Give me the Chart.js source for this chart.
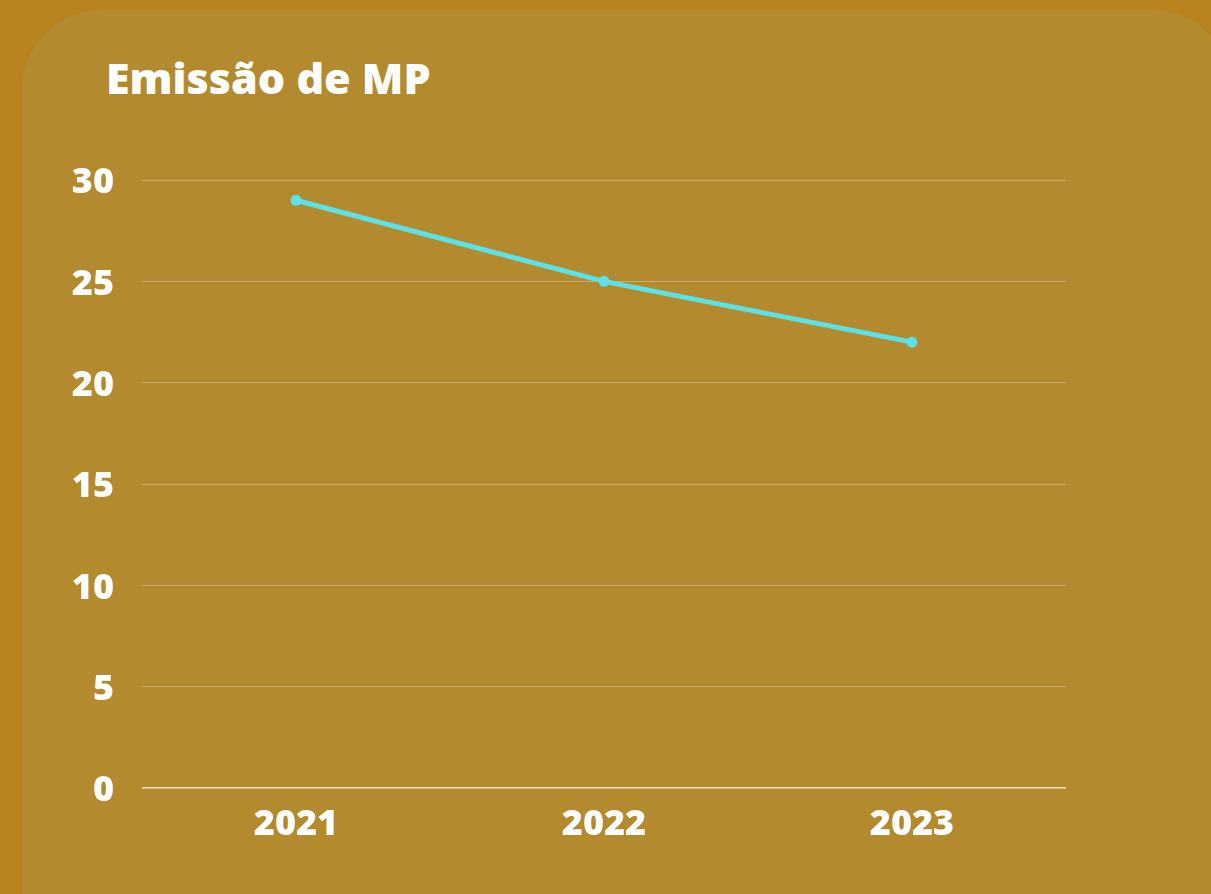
<!DOCTYPE html>
<html>
<head>
<meta charset="utf-8">
<script src="https://cdn.jsdelivr.net/npm/chart.js@4"></script>
<style>
  html, body { margin:0; padding:0; }
  body { width:1211px; height:894px; background:#b8821f; position:relative; overflow:hidden; font-family:"Open Sans", sans-serif; }
  #panel { position:absolute; left:22px; top:10px; width:1210px; height:960px; background:#b38b2e; border-radius:80px; }
  #title { position:absolute; left:106px; top:56px; margin:0; font-size:43px; line-height:43px; font-weight:800; color:#ffffff; white-space:nowrap; }
  #wrap { position:absolute; left:0; top:0; width:1211px; height:894px; }
</style>
</head>
<body>
<div id="panel"></div>
<h1 id="title">Emissão de MP</h1>
<div id="wrap"><canvas id="c" width="1211" height="894"></canvas></div>
<script>
const categories = ["2021", "2022", "2023"];
const emissions = [29, 25, 22];
const yTicks = [0, 5, 10, 15, 20, 25, 30];

new Chart(document.getElementById('c'), {
  type: 'line',
  data: {
    labels: categories,
    datasets: [{
      label: 'Emissão de MP',
      data: emissions,
      borderColor: '#5ce1e6',
      backgroundColor: '#5ce1e6',
      borderWidth: 5,
      pointRadius: 5.5,
      pointHoverRadius: 5.5,
      pointBackgroundColor: '#5ce1e6',
      pointBorderWidth: 0,
      tension: 0,
      fill: false
    }]
  },
  options: {
    responsive: false,
    animation: false,
    devicePixelRatio: 1,
    layout: { padding: { left: 0, right: 145, top: 180, bottom: 0 } },
    plugins: { legend: { display: false }, tooltip: { enabled: false }, title: { display: false } },
    scales: {
      x: {
        offset: true,
        grid: { display: false, drawTicks: false },
        border: { display: false },
        ticks: { color: '#ffffff', padding: 15, font: { family: 'Open Sans', size: 36, weight: '800' } },
        afterFit: (s) => { s.height = 106; }
      },
      y: {
        min: 0, max: 30,
        afterBuildTicks: (s) => { s.ticks = yTicks.map(v => ({ value: v })); },
        grid: {
          drawTicks: false,
          color: (ctx) => ctx.tick && ctx.tick.value === 0 ? 'rgba(255,255,255,0.75)' : 'rgba(255,255,255,0.3)',
          lineWidth: (ctx) => ctx.tick && ctx.tick.value === 0 ? 1.5 : 1
        },
        border: { display: false },
        ticks: { color: '#ffffff', padding: 28, labelOffset: 3, font: { family: 'Open Sans', size: 36, weight: '800' } },
        afterFit: (s) => { s.width = 142; }
      }
    }
  }
});
</script>
</body>
</html>
